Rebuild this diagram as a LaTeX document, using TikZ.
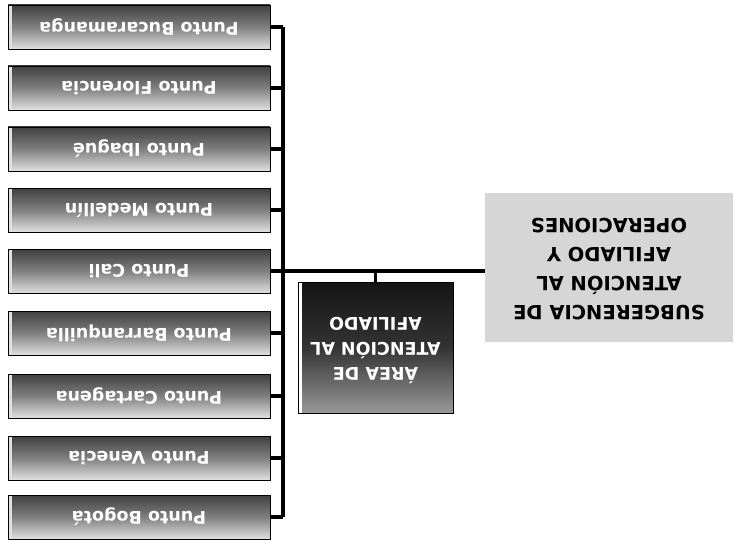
\documentclass[tikz,border=0pt]{standalone}
\usepackage{fontspec}
\setmainfont{DejaVu Sans}
\usepackage{graphicx}
\begin{document}
\begin{tikzpicture}[x=1pt,y=-1pt,
  pbox/.style={draw=black, line width=0.8pt, minimum width=262pt, minimum height=44pt,
    inner sep=0pt, top color=black!75, bottom color=black!12, middle color=black!50,
    text=white, font=\fontsize{17.5}{19}\selectfont\bfseries,
    path picture={\fill[black!12] (path picture bounding box.north west) rectangle ([xshift=4pt]path picture bounding box.south west);}},
  areabox/.style={draw=black, line width=0.8pt, minimum width=155pt, minimum height=131pt,
    inner sep=0pt, top color=black!92, bottom color=black!40, middle color=black!80,
    text=white, font=\fontsize{17.5}{25}\selectfont\bfseries,
    path picture={\fill[white] (path picture bounding box.north west) rectangle ([xshift=4pt]path picture bounding box.south west);}},
  subbox/.style={fill=black!16, minimum width=248pt, minimum height=149pt, inner sep=0pt,
    text=black, font=\fontsize{19.5}{29}\selectfont\bfseries},
  conn/.style={draw=black, line width=3.2pt}]
\useasboundingbox (0,0) rectangle (735,540);
\node[pbox] (b1) at (139,27) {\rotatebox{180}{Punto Bucaramanga}};
\node[pbox] (b2) at (139,88) {\rotatebox{180}{Punto Florencia}};
\node[pbox] (b3) at (139,149) {\rotatebox{180}{Punto Ibagué}};
\node[pbox] (b4) at (139,210) {\rotatebox{180}{Punto Medellín}};
\node[pbox] (b5) at (139,271) {\rotatebox{180}{Punto Cali}};
\node[pbox] (b6) at (139,333) {\rotatebox{180}{Punto Barranquilla}};
\node[pbox] (b7) at (139,396) {\rotatebox{180}{Punto Cartagena}};
\node[pbox] (b8) at (139,458) {\rotatebox{180}{Punto Venecia}};
\node[pbox] (b9) at (139,517) {\rotatebox{180}{Punto Bogotá}};
\node[areabox] (area) at (375.5,347.5) {\rotatebox{180}{\begin{tabular}{@{}c@{}}ÁREA DE\\ATENCIÓN AL\\AFILIADO\end{tabular}}};
\node[subbox] (sub) at (609,267.5) {\rotatebox{180}{\begin{tabular}{@{}c@{}}SUBGERENCIA DE\\ATENCIÓN AL\\AFILIADO Y\\OPERACIONES\end{tabular}}};
\coordinate (bus) at (283,0);
\draw[conn] (b1.east -| bus) -- (b9.east -| bus);
\foreach \i in {1,...,9} {\draw[conn] (b\i.east) -- (b\i.east -| bus);}
\draw[conn] (b5.east -| bus) -- (b5.east -| sub.west);
\draw[conn] (area.north) -- (area.north |- b5.east);
\end{tikzpicture}
\end{document}
